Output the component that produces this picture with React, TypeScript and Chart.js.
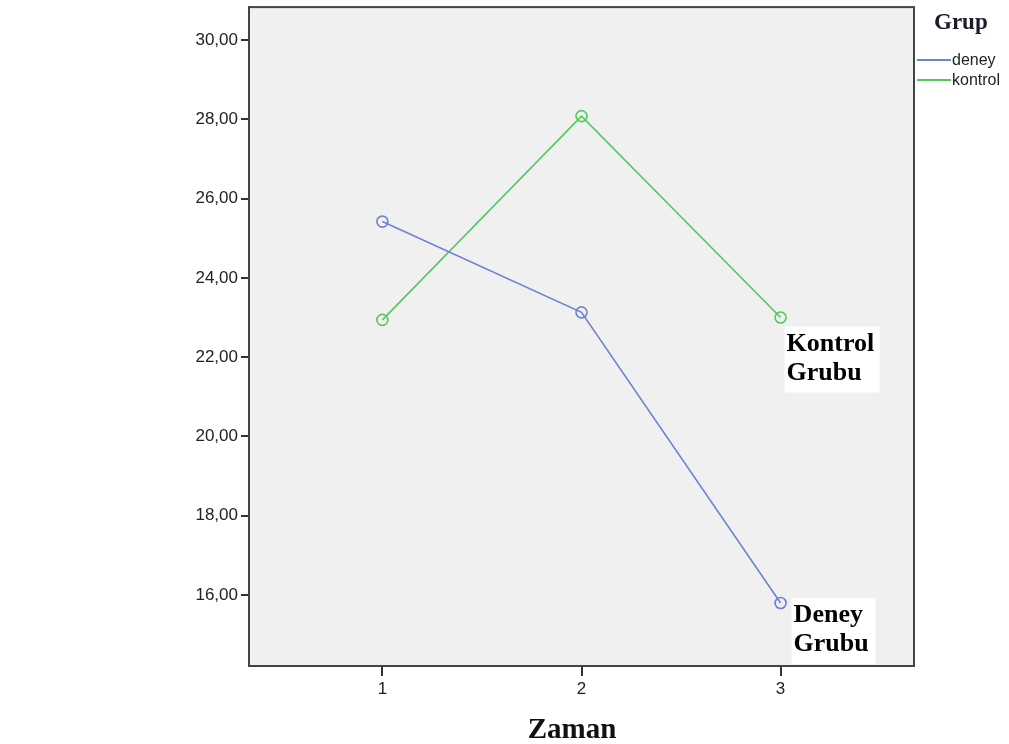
import React, { useEffect, useRef } from "react";
import { Chart, registerables } from "chart.js";

Chart.register(...registerables);

const timePoints = [1, 2, 3];
const deneyValues = [25.42, 23.13, 15.8];
const kontrolValues = [22.94, 28.08, 23.0];
const yTickValues = [16, 18, 20, 22, 24, 26, 28, 30];
const seriesNames = ["deney", "kontrol"];
const legendTitle = "Grup";
const xTitle = "Zaman";
const labelKontrol = ["Kontrol", "Grubu"];
const labelDeney = ["Deney", "Grubu"];

const BLUE = "#6e82d2";
const GREEN = "#52c862";

export default function App() {
  const ref = useRef<HTMLCanvasElement | null>(null);

  useEffect(() => {
    document.body.style.margin = "0";
    const canvas = ref.current;
    if (!canvas) return;

    const decor = {
      id: "decor",
      beforeDraw(chart: any) {
        const { ctx, chartArea: a } = chart;
        ctx.save();
        ctx.fillStyle = "#f0f0f0";
        ctx.fillRect(a.left, a.top, a.right - a.left, a.bottom - a.top);
        ctx.restore();
      },
      afterDraw(chart: any) {
        const { ctx, chartArea: a, scales } = chart;
        ctx.save();
        // frame
        ctx.strokeStyle = "#444";
        ctx.lineWidth = 2;
        ctx.strokeRect(a.left, a.top, a.right - a.left, a.bottom - a.top);

        // x title
        ctx.fillStyle = "#111";
        ctx.font = "bold 29px 'Liberation Serif'";
        ctx.textAlign = "center";
        ctx.textBaseline = "alphabetic";
        ctx.fillText(xTitle, 572, 738);

        // legend
        ctx.textAlign = "left";
        ctx.font = "bold 23px 'Liberation Serif'";
        ctx.fillStyle = "#1c1c2c";
        ctx.fillText(legendTitle, 934, 29);
        const colors = [BLUE, GREEN];
        ctx.font = "16px 'Liberation Sans'";
        seriesNames.forEach((n, i) => {
          const y = 60 + i * 20;
          ctx.strokeStyle = colors[i];
          ctx.lineWidth = 2;
          ctx.beginPath();
          ctx.moveTo(917, y);
          ctx.lineTo(951, y);
          ctx.stroke();
          ctx.fillStyle = "#222";
          ctx.textBaseline = "middle";
          ctx.fillText(n, 952, y + 1);
        });

        // annotations near last points
        const drawBox = (lines: string[], px: number, py: number, dx: number, dy: number, w: number) => {
          const x0 = px + dx;
          const y0 = py + dy;
          ctx.fillStyle = "#ffffff";
          ctx.fillRect(x0, y0, w, 66);
          ctx.fillStyle = "#000";
          ctx.font = "bold 26px 'Liberation Serif'";
          ctx.textBaseline = "alphabetic";
          ctx.textAlign = "left";
          lines.forEach((t, i) => ctx.fillText(t, x0 + 2, y0 + 24 + i * 29));
        };
        const xs = scales.x;
        const ys = scales.y;
        const lastX = xs.getPixelForValue(timePoints[timePoints.length - 1]);
        drawBox(labelKontrol, lastX, ys.getPixelForValue(kontrolValues[2]), 4, 9, 95);
        drawBox(labelDeney, lastX, ys.getPixelForValue(deneyValues[2]), 11, -5, 84);
        ctx.restore();
      },
    };

    const chart = new Chart(canvas, {
      type: "line",
      data: {
        datasets: [
          {
            label: seriesNames[0],
            data: timePoints.map((t, i) => ({ x: t, y: deneyValues[i] })),
            borderColor: BLUE,
            backgroundColor: "transparent",
            borderWidth: 1.6,
            pointRadius: 5.5,
            pointBorderWidth: 1.6,
            pointBackgroundColor: "transparent",
            pointBorderColor: BLUE,
            tension: 0,
          },
          {
            label: seriesNames[1],
            data: timePoints.map((t, i) => ({ x: t, y: kontrolValues[i] })),
            borderColor: GREEN,
            backgroundColor: "transparent",
            borderWidth: 1.6,
            pointRadius: 5.5,
            pointBorderWidth: 1.6,
            pointBackgroundColor: "transparent",
            pointBorderColor: GREEN,
            tension: 0,
          },
        ],
      },
      options: {
        responsive: false,
        animation: false,
        devicePixelRatio: 1,
        layout: { padding: { left: 0, top: 5, right: 95, bottom: 0 } },
        plugins: { legend: { display: false }, tooltip: { enabled: false } },
        scales: {
          x: {
            type: "linear",
            min: 0.33,
            max: 3.67,
            afterBuildTicks: (s: any) => {
              s.ticks = timePoints.map((v) => ({ value: v }));
            },
            afterFit: (s: any) => {
              s.height = 78;
              s.paddingLeft = 0;
              s.paddingRight = 0;
            },
            grid: { drawOnChartArea: false, drawTicks: true, tickLength: 10, color: "#333", lineWidth: 2 },
            border: { display: true, color: "#444", width: 2 },
            ticks: {
              color: "#222",
              font: { family: "'Liberation Sans'", size: 17 },
              padding: 3,
              maxRotation: 0,
              callback: (v: any) => String(v),
            },
          },
          y: {
            type: "linear",
            min: 14.21,
            max: 30.83,
            afterBuildTicks: (s: any) => {
              s.ticks = yTickValues.map((v) => ({ value: v }));
            },
            afterFit: (s: any) => {
              s.width = 249;
              s.paddingTop = 0;
              s.paddingBottom = 0;
            },
            grid: { drawOnChartArea: false, drawTicks: true, tickLength: 8, color: "#333", lineWidth: 2 },
            border: { display: true, color: "#444", width: 2 },
            ticks: {
              color: "#222",
              font: { family: "'Liberation Sans'", size: 17 },
              padding: 3,
              callback: (v: any) => Number(v).toFixed(2).replace(".", ","),
            },
          },
        },
      },
      plugins: [decor],
    } as any);

    return () => chart.destroy();
  }, []);

  return (
    <div style={{ position: "absolute", left: 0, top: 0, width: 1009, height: 744, background: "#fff" }}>
      <canvas ref={ref} width={1009} height={744} style={{ width: 1009, height: 744 }} />
    </div>
  );
}
